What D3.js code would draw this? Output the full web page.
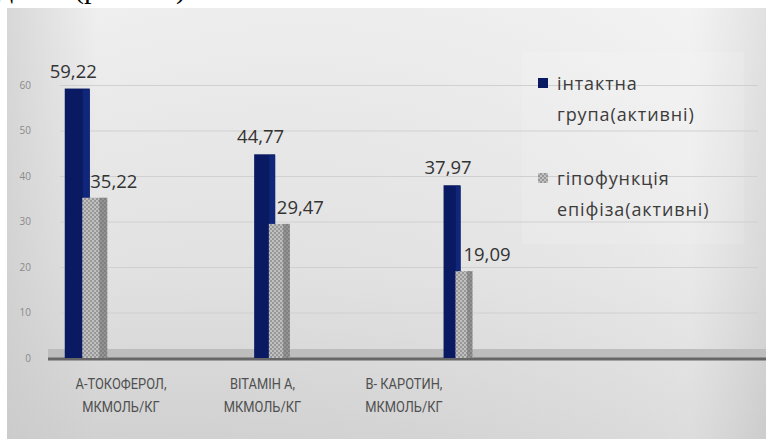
<!DOCTYPE html>
<html>
<head>
<meta charset="utf-8">
<script src="https://cdn.jsdelivr.net/npm/d3@7"></script>
<style>
  body { margin: 0; background: #fff; }
  svg { display: block; }
</style>
</head>
<body>
<div id="wrapper"></div>
<script>
const categories = ["А-ТОКОФЕРОЛ, МКМОЛЬ/КГ", "ВІТАМІН А, МКМОЛЬ/КГ", "В- КАРОТИН, МКМОЛЬ/КГ"]
const intactValues = [59.22, 44.77, 37.97]
const hypoValues = [35.22, 29.47, 19.09]
const seriesNames = [["інтактна", "група(активні)"], ["гіпофункція", "епіфіза(активні)"]]
const yTicks = [0, 10, 20, 30, 40, 50, 60]

function drawBars() {

  // 1. Access data
  const dataset = categories.map((c, i) => ({ cat: c, a: intactValues[i], b: hypoValues[i], i: i }))
  const fmt = v => v.toFixed(2).replace(".", ",")

  // 2. Create chart dimensions
  let dimensions = {
    width: 766,
    height: 439,
    panelTop: 8,
    panelLeft: 7,
  }

  // 3. Draw canvas
  const wrapper = d3.select("#wrapper")
    .append("svg")
      .attr("width", dimensions.width)
      .attr("height", dimensions.height)

  const defs = wrapper.append("defs")
  const vg = defs.append("linearGradient").attr("id", "bgV")
      .attr("x1", 0).attr("y1", 0).attr("x2", 0).attr("y2", 1)
  vg.append("stop").attr("offset", "0%").attr("stop-color", "#efefef")
  vg.append("stop").attr("offset", "60%").attr("stop-color", "#e2e2e2")
  vg.append("stop").attr("offset", "100%").attr("stop-color", "#d1d1d1")
  const hg = defs.append("linearGradient").attr("id", "bgH")
      .attr("x1", 0).attr("y1", 0).attr("x2", 1).attr("y2", 0)
  hg.append("stop").attr("offset", "0%").attr("stop-color", "#c8c8c8").attr("stop-opacity", 0.6)
  hg.append("stop").attr("offset", "12%").attr("stop-color", "#c8c8c8").attr("stop-opacity", 0)
  hg.append("stop").attr("offset", "90%").attr("stop-color", "#ffffff").attr("stop-opacity", 0.25)
  hg.append("stop").attr("offset", "100%").attr("stop-color", "#c0c0c0").attr("stop-opacity", 0.3)

  const pat = defs.append("pattern").attr("id", "checks")
      .attr("width", 4).attr("height", 4).attr("patternUnits", "userSpaceOnUse")
  pat.append("rect").attr("width", 4).attr("height", 4).attr("fill", "#989898")
  pat.append("rect").attr("width", 2).attr("height", 2).attr("fill", "#c0c0c0")
  pat.append("rect").attr("x", 2).attr("y", 2).attr("width", 2).attr("height", 2).attr("fill", "#c0c0c0")

  // cut-off caption above the picture (only its lowest edge shows)
  wrapper.append("g")
      .style("font-family", "'Liberation Serif', 'Times New Roman', serif")
      .style("font-size", "30px")
      .attr("fill", "#000")
    .selectAll("text")
    .data([["д", -2], ["(р", 74], [")", 176]])
    .join("text")
      .attr("x", d => d[1])
      .attr("y", -2)
      .text(d => d[0])

  wrapper.append("rect")
      .attr("x", dimensions.panelLeft).attr("y", dimensions.panelTop)
      .attr("width", dimensions.width - dimensions.panelLeft)
      .attr("height", dimensions.height - dimensions.panelTop)
      .attr("fill", "url(#bgV)")
  wrapper.append("rect")
      .attr("x", dimensions.panelLeft).attr("y", dimensions.panelTop)
      .attr("width", dimensions.width - dimensions.panelLeft)
      .attr("height", dimensions.height - dimensions.panelTop)
      .attr("fill", "url(#bgH)")

  // 4. Create scales
  const yScale = d3.scaleLinear()
    .domain([0, 60])
    .range([358, 85])

  const xScale = d3.scalePoint()
    .domain(categories)
    .range([86, 458])

  const labelScale = d3.scalePoint()
    .domain(categories)
    .range([121, 404])

  const widthScale = d3.scaleLinear()
    .domain([0, 2])
    .range([25, 17])

  // legend panel
  wrapper.append("rect")
      .attr("x", 522).attr("y", 52).attr("width", 222).attr("height", 192)
      .attr("fill", "#ffffff").attr("opacity", 0.12)

  // gridlines
  wrapper.append("g")
    .selectAll("line")
    .data(yTicks.filter(t => t > 0))
    .join("line")
      .attr("x1", 60).attr("x2", 758)
      .attr("y1", d => yScale(d) + 0.5).attr("y2", d => yScale(d) + 0.5)
      .attr("stroke", "#d0d0d0")
      .attr("stroke-width", 1)

  // y axis
  const yAxisGenerator = d3.axisLeft(yScale)
    .tickValues(yTicks)
    .tickSize(0)
    .tickPadding(0)

  const yAxis = wrapper.append("g")
      .attr("transform", "translate(31,0)")
      .call(yAxisGenerator)
  yAxis.select(".domain").remove()
  yAxis.selectAll("text")
      .attr("fill", "#8a8a8a")
      .style("font-family", "'Open Sans', sans-serif")
      .style("font-size", "10px")

  // floor
  wrapper.append("rect")
      .attr("x", 48).attr("y", yScale(0) - 9)
      .attr("width", 718).attr("height", 9)
      .attr("fill", "#bdbdbd")
  wrapper.append("line")
      .attr("x1", 48).attr("x2", 766)
      .attr("y1", yScale(0) + 1).attr("y2", yScale(0) + 1)
      .attr("stroke", "#666666")
      .attr("stroke-width", 3)

  // 5. Draw data
  const groups = wrapper.selectAll(".bar-group")
    .data(dataset)
    .join("g")
      .attr("class", "bar-group")

  // intact group bars (dark blue)
  groups.append("rect")
      .attr("x", d => xScale(d.cat) - 0.85 * widthScale(d.i))
      .attr("y", d => yScale(d.a))
      .attr("width", d => widthScale(d.i))
      .attr("height", d => yScale(0) - yScale(d.a))
      .attr("fill", "#0a1a62")
  groups.append("rect")
      .attr("x", d => xScale(d.cat) - 0.85 * widthScale(d.i) + widthScale(d.i) * 0.72)
      .attr("y", d => yScale(d.a) + 1)
      .attr("width", d => widthScale(d.i) * 0.28)
      .attr("height", d => yScale(0) - yScale(d.a) - 1)
      .attr("fill", "#10267a")

  // hypofunction bars (gray, textured)
  groups.append("rect")
      .attr("x", d => xScale(d.cat) - 0.15 * widthScale(d.i))
      .attr("y", d => yScale(d.b))
      .attr("width", d => widthScale(d.i))
      .attr("height", d => yScale(0) - yScale(d.b))
      .attr("fill", "url(#checks)")
  groups.append("rect")
      .attr("x", d => xScale(d.cat) - 0.15 * widthScale(d.i) + widthScale(d.i) * 0.68)
      .attr("y", d => yScale(d.b))
      .attr("width", d => widthScale(d.i) * 0.32)
      .attr("height", d => yScale(0) - yScale(d.b))
      .attr("fill", "#6e6e6e")
      .attr("opacity", 0.55)

  // value labels
  const labelFont = "'Open Sans', sans-serif"
  groups.append("text")
      .attr("x", d => xScale(d.cat) - 0.35 * widthScale(d.i) - 4)
      .attr("y", d => yScale(d.a) - 11)
      .attr("text-anchor", "middle")
      .attr("fill", "#333333")
      .style("font-family", labelFont)
      .style("font-size", "18.5px")
      .text(d => fmt(d.a))
  groups.append("text")
      .attr("x", d => xScale(d.cat) - 0.15 * widthScale(d.i) + 8)
      .attr("y", d => yScale(d.b) - 10)
      .attr("fill", "#333333")
      .style("font-family", labelFont)
      .style("font-size", "18.5px")
      .text(d => fmt(d.b))

  // 6. Draw peripherals
  const xLabels = wrapper.append("g")
      .style("font-family", "Roboto, sans-serif")
      .style("font-size", "14px")
      .attr("fill", "#505050")
  xLabels.selectAll("text")
    .data(categories)
    .join("text")
      .attr("x", d => labelScale(d))
      .attr("y", 389)
      .attr("text-anchor", "middle")
      .attr("transform", d => `translate(${labelScale(d)},0) scale(0.92,1.1) translate(${-labelScale(d)},-35)`)
      .each(function(d) {
        const parts = d.split(", ")
        d3.select(this).selectAll("tspan")
          .data([parts[0] + ",", parts[1]])
          .join("tspan")
            .attr("x", labelScale(d))
            .attr("dy", (p, i) => i === 0 ? 0 : 21)
            .text(p => p)
      })

  const legend = wrapper.append("g")
      .style("font-family", labelFont)
      .style("font-size", "18px")
      .style("letter-spacing", "0.9px")
      .attr("fill", "#3c3c3c")
  const legendItems = legend.selectAll("g")
    .data(seriesNames)
    .join("g")
      .attr("transform", (d, i) => `translate(538,${78 + i * 95})`)
  legendItems.append("rect")
      .attr("width", 10).attr("height", 10)
      .attr("fill", (d, i) => i === 0 ? "#0a1a62" : "url(#checks)")
  legendItems.append("text")
      .attr("x", 19)
      .attr("y", 12)
      .each(function(d) {
        d3.select(this).selectAll("tspan")
          .data(d)
          .join("tspan")
            .attr("x", 19)
            .attr("dy", (p, i) => i === 0 ? 0 : 31)
            .text(p => p)
      })
}
drawBars()
</script>
</body>
</html>
